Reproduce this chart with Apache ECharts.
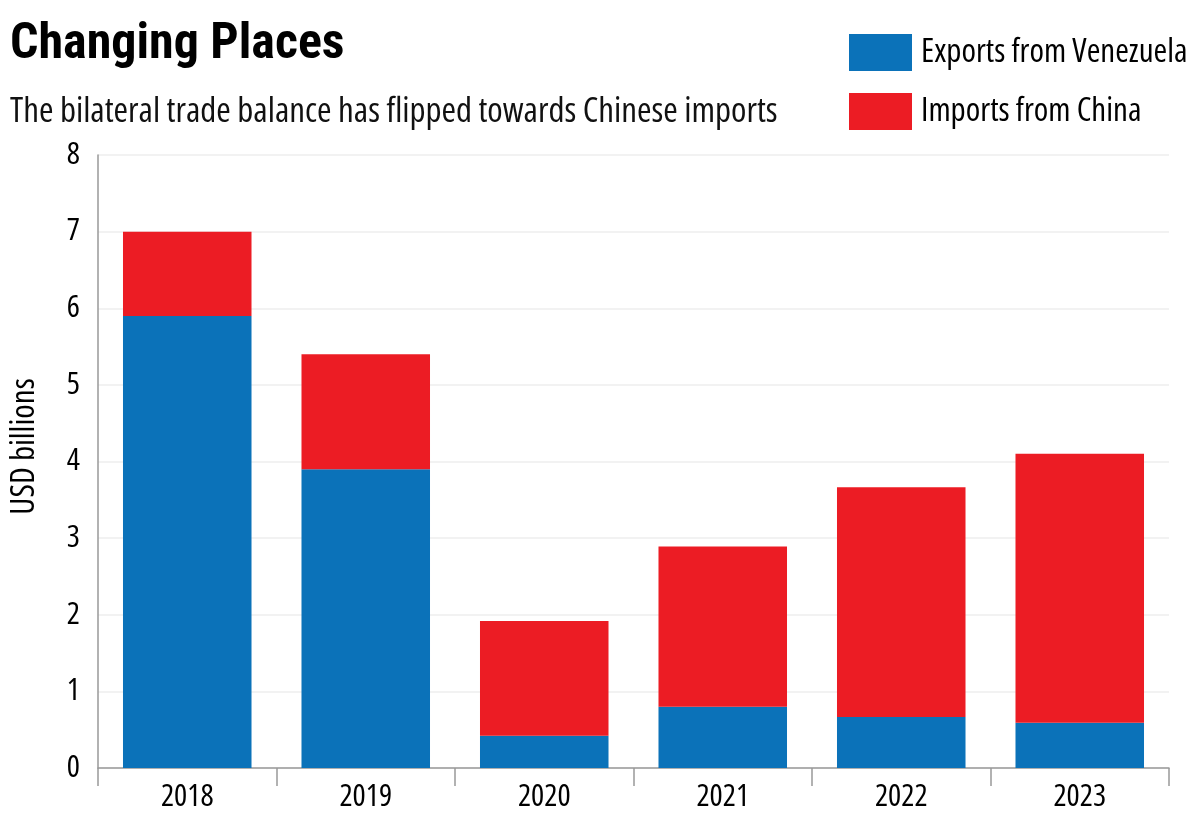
<!DOCTYPE html>
<html>
<head>
<meta charset="utf-8">
<script src="https://cdn.jsdelivr.net/npm/echarts@6/dist/echarts.min.js"></script>
<style>
  html, body { margin: 0; padding: 0; background: #fff; }
  #chart { width: 1200px; height: 826px; }
</style>
</head>
<body>
<div id="chart"></div>
<script>
var years = ['2018', '2019', '2020', '2021', '2022', '2023'];
var exportsVen = [5.9, 3.9, 0.42, 0.8, 0.665, 0.59];
var importsChina = [1.1, 1.5, 1.5, 2.09, 3.0, 3.51];

// condensed faces: the stretch keyword rides along in fontWeight
var TXT = '"Open Sans"';
var HEAD = 'Roboto';
var NARROW = 'normal condensed';

var myChart = echarts.init(document.getElementById('chart'));

var option = {
    backgroundColor: '#fff',
    animation: false,
    textStyle: { fontFamily: TXT, fontStyle: 'normal', fontWeight: NARROW, color: '#000' },
    title: [
        {
            text: 'Changing Places',
            left: 5,
            top: 15,
            textStyle: { fontFamily: HEAD, fontStyle: 'normal', fontSize: 50, fontWeight: 'bold condensed', color: '#000' }
        },
        {
            text: 'The bilateral trade balance has flipped towards Chinese imports',
            left: 5,
            top: 90,
            textStyle: { fontFamily: TXT, fontStyle: 'normal', fontSize: 35, fontWeight: NARROW, color: '#111' }
        }
    ],
    legend: {
        orient: 'vertical',
        left: 844,
        top: 29,
        itemWidth: 63,
        itemHeight: 37,
        itemGap: 22,
        icon: 'rect',
        textStyle: { fontFamily: TXT, fontStyle: 'normal', fontWeight: NARROW, fontSize: 33, color: '#000', padding: [0, 0, 0, 4] },
        data: ['Exports from Venezuela', 'Imports from China']
    },
    grid: { left: 96, right: 31, top: 155, bottom: 58, containLabel: false },
    xAxis: {
        type: 'category',
        data: years,
        axisLine: { lineStyle: { color: '#999', width: 1.5 } },
        axisTick: { show: true, length: 18, lineStyle: { color: '#999', width: 1.5 } },
        axisLabel: { fontFamily: TXT, fontStyle: 'normal', fontWeight: NARROW, fontSize: 31, color: '#000', margin: 14 }
    },
    yAxis: {
        type: 'value',
        min: 0,
        max: 8,
        interval: 1,
        name: 'USD billions',
        nameLocation: 'middle',
        nameRotate: 90,
        nameGap: 57,
        nameTextStyle: { fontFamily: TXT, fontStyle: 'normal', fontWeight: NARROW, fontSize: 33, color: '#000', padding: [0, 0, 0, 30] },
        axisLine: { show: true, lineStyle: { color: '#999', width: 1.5 } },
        axisTick: { show: false },
        axisLabel: { fontFamily: TXT, fontStyle: 'normal', fontWeight: NARROW, fontSize: 31, color: '#000', margin: 18 },
        splitLine: { lineStyle: { color: '#eeeeee', width: 1.5 } }
    },
    series: [
        {
            name: 'Exports from Venezuela',
            type: 'bar',
            stack: 'trade',
            barWidth: '72%',
            itemStyle: { color: '#0b72b9' },
            data: exportsVen
        },
        {
            name: 'Imports from China',
            type: 'bar',
            stack: 'trade',
            barWidth: '72%',
            itemStyle: { color: '#ec1c24' },
            data: importsChina
        }
    ]
};

option && myChart.setOption(option);
</script>
</body>
</html>
